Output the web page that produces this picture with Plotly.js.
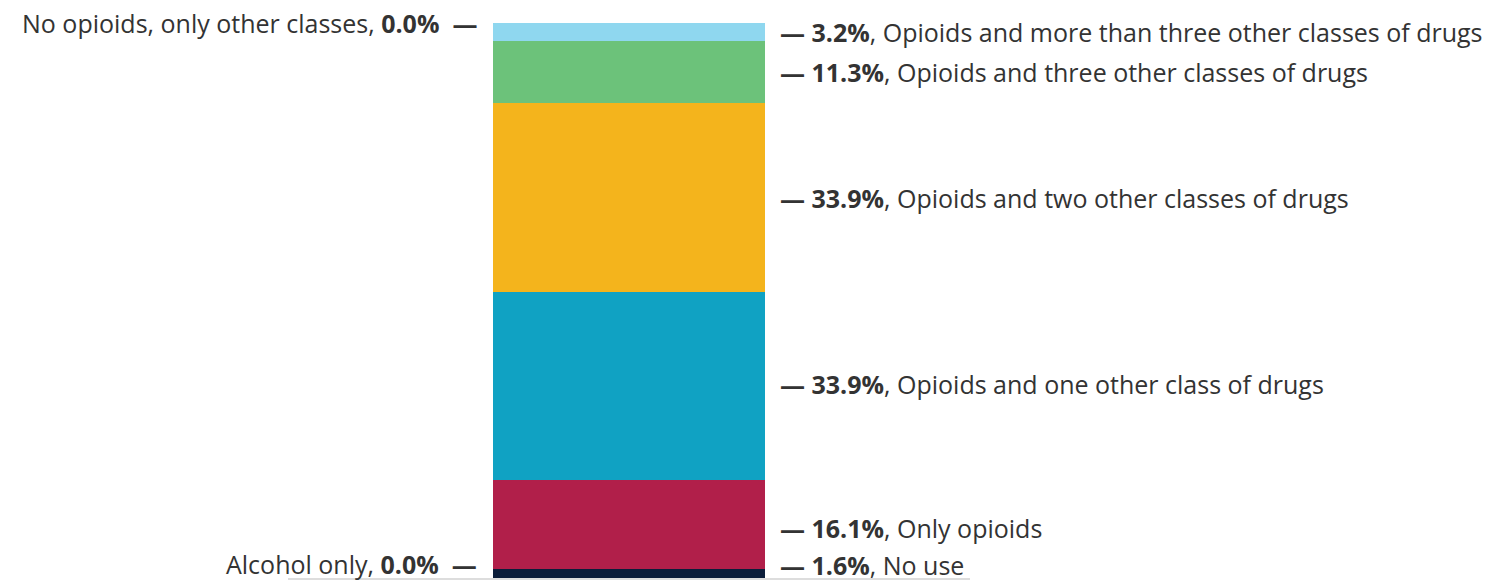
<!DOCTYPE html>
<html>
<head>
<meta charset="utf-8">
<script src="https://cdn.plot.ly/plotly-3.0.1.min.js"></script>
<style>html,body{margin:0;padding:0;background:#fff;}#chart{width:1512px;height:582px;}</style>
</head>
<body>
<div id="chart"></div>
<script>
// Data (bottom to top of the stacked bar)
const categories = [
  "No use",
  "Alcohol only",
  "Only opioids",
  "Opioids and one other class of drugs",
  "Opioids and two other classes of drugs",
  "Opioids and three other classes of drugs",
  "Opioids and more than three other classes of drugs",
  "No opioids, only other classes"
];
const values = [1.6, 0.0, 16.1, 33.9, 33.9, 11.3, 3.2, 0.0];
const colors = ["#0b1d3a", "#7a7a7a", "#b11f4a", "#10a2c3", "#f4b41c", "#6cc27a", "#8fd7ef", "#cccccc"];
// which side each label is drawn on
const labelSide = ["right", "left", "right", "right", "right", "right", "right", "left"];

const FONT = "'Open Sans', Raleway, sans-serif";
const TEXT = "#333333";
const FS = 25;
const BAR_W = 0.4;

const traces = categories.map((c, i) => ({
  type: "bar",
  name: c,
  x: [0],
  y: [values[i]],
  width: BAR_W,
  marker: {color: colors[i], line: {width: 0}},
  hoverinfo: "name+y",
  showlegend: false
}));

// label placement: segment midpoints, small nudges (pixels) to avoid crowding / the bottom edge
const labelNudge = [9, 5, -4, 2, 0, 0, 0, 0];
const annotations = [];
let cum = 0;
values.forEach((v, i) => {
  const mid = cum + v / 2;
  const top = cum + v;
  cum += v;
  const pct = "<b>" + v.toFixed(1) + "%</b>";
  if (labelSide[i] === "right") {
    annotations.push({
      x: BAR_W / 2, y: mid, xref: "x", yref: "y",
      xanchor: "left", yanchor: "middle", xshift: 13, yshift: labelNudge[i],
      text: "<b>—</b> " + pct + ", " + categories[i],
      showarrow: false, font: {family: FONT, size: FS, color: TEXT}
    });
  } else {
    annotations.push({
      x: -BAR_W / 2, y: top, xref: "x", yref: "y",
      xanchor: "right", yanchor: "middle", xshift: -14, yshift: labelNudge[i],
      text: categories[i] + ", " + pct + "  <b>—</b>",
      showarrow: false, font: {family: FONT, size: FS, color: TEXT}
    });
  }
});

const layout = {
  width: 1512, height: 582,
  margin: {l: 288, r: 542, t: 23, b: 4, pad: 0},
  paper_bgcolor: "#ffffff", plot_bgcolor: "#ffffff",
  barmode: "stack",
  bargap: 0,
  xaxis: {range: [-0.5, 0.5], showgrid: false, zeroline: false, showticklabels: false,
          ticks: "", showline: true, linecolor: "#dddddd", linewidth: 2, fixedrange: true},
  yaxis: {range: [0, 100], showgrid: false, zeroline: false, showticklabels: false,
          ticks: "", showline: false, fixedrange: true},
  annotations: annotations,
  font: {family: FONT, color: TEXT}
};

Plotly.newPlot("chart", traces, layout, {displayModeBar: false, staticPlot: true});
</script>
</body>
</html>
